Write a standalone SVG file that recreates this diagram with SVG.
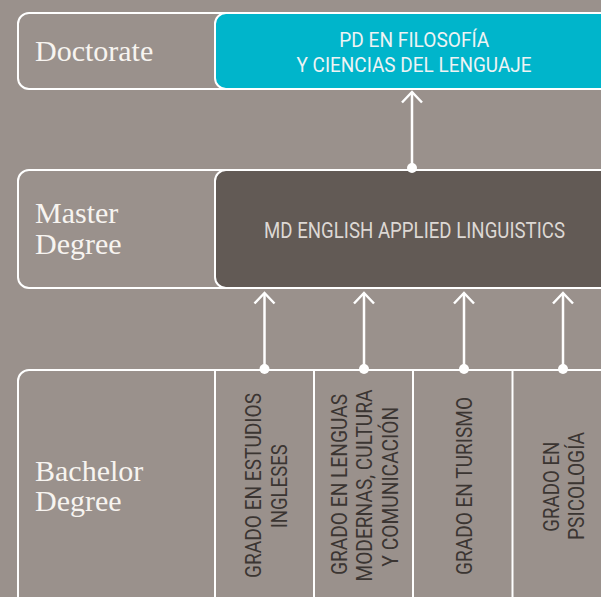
<svg xmlns="http://www.w3.org/2000/svg" width="601" height="597" viewBox="0 0 601 597">
  <defs>
    <style>
      .frame { fill: none; stroke: #ffffff; stroke-width: 2; }
      .level { font-family: "Liberation Serif", "Times New Roman", serif; font-size: 30px; fill: #f7f4f0; }
      .prog { font-family: Roboto, "Liberation Sans", sans-serif; text-anchor: middle; }
      .light { fill: #eef3f4; font-size: 20px; }
      .pale { fill: #ddd8d4; font-size: 21.5px; }
      .dark { fill: #3b3532; font-size: 22px; }
      .conn line, .conn polyline { stroke: #ffffff; stroke-width: 2.5; fill: none; }
      .conn circle { fill: #ffffff; }
      .divider { stroke: #ffffff; stroke-width: 2; }
    </style>
  </defs>
  <rect x="0" y="0" width="601" height="597" fill="#9a918c"/>

  <g id="doctorate-row">
    <rect class="frame" x="18" y="13" width="610" height="76" rx="11"/>
    <text class="level" x="35" y="61">Doctorate</text>
  </g>
  <g id="pd-filosofia">
    <rect x="215" y="13" width="398" height="76" rx="11" fill="#00b5cb" stroke="#ffffff" stroke-width="2"/>
    <text class="prog light" x="414.3" y="46.7" textLength="150" lengthAdjust="spacingAndGlyphs">PD EN FILOSOFÍA</text>
    <text class="prog light" x="414" y="72.3" textLength="235" lengthAdjust="spacingAndGlyphs">Y CIENCIAS DEL LENGUAJE</text>
  </g>

  <g id="master-row">
    <rect class="frame" x="18" y="170" width="610" height="118" rx="11"/>
    <text class="level" x="35" y="223.3">Master</text>
    <text class="level" x="35" y="254.3">Degree</text>
  </g>
  <g id="md-english">
    <rect x="215" y="170" width="398" height="118" rx="11" fill="#625a55" stroke="#ffffff" stroke-width="2"/>
    <text class="prog pale" transform="translate(414.5,238.3) scale(0.8635,1)" x="0" y="0" textLength="348.6" lengthAdjust="spacingAndGlyphs">MD ENGLISH APPLIED LINGUISTICS</text>
  </g>

  <g id="bachelor-row">
    <rect class="frame" x="18" y="370" width="610" height="300" rx="11"/>
    <text class="level" x="35" y="480.7">Bachelor</text>
    <text class="level" x="35" y="510.7">Degree</text>
    <line class="divider" x1="215" y1="370" x2="215" y2="597"/>
    <line class="divider" x1="314" y1="370" x2="314" y2="597"/>
    <line class="divider" x1="413" y1="370" x2="413" y2="597"/>
    <line class="divider" x1="512.5" y1="370" x2="512.5" y2="597"/>
  </g>

  <g id="grado-estudios-ingleses">
    <text class="prog dark" transform="translate(260.7,485.5) rotate(-90)" textLength="185" lengthAdjust="spacingAndGlyphs">GRADO EN ESTUDIOS</text>
    <text class="prog dark" transform="translate(287,486.3) rotate(-90)" textLength="84" lengthAdjust="spacingAndGlyphs">INGLESES</text>
  </g>
  <g id="grado-lenguas-modernas">
    <text class="prog dark" transform="translate(346.5,484.5) rotate(-90)" textLength="181" lengthAdjust="spacingAndGlyphs">GRADO EN LENGUAS</text>
    <text class="prog dark" transform="translate(372,485.5) rotate(-90)" textLength="192" lengthAdjust="spacingAndGlyphs">MODERNAS, CULTURA</text>
    <text class="prog dark" transform="translate(397.8,486.7) rotate(-90)" textLength="160" lengthAdjust="spacingAndGlyphs">Y COMUNICACIÓN</text>
  </g>
  <g id="grado-turismo">
    <text class="prog dark" transform="translate(471.7,486) rotate(-90)" textLength="178" lengthAdjust="spacingAndGlyphs">GRADO EN TURISMO</text>
  </g>
  <g id="grado-psicologia">
    <text class="prog dark" transform="translate(559,486.7) rotate(-90)" textLength="90" lengthAdjust="spacingAndGlyphs">GRADO EN</text>
    <text class="prog dark" transform="translate(583.5,486) rotate(-90)" textLength="108" lengthAdjust="spacingAndGlyphs">PSICOLOGÍA</text>
  </g>

  <g id="connectors" class="conn">
    <line x1="412" y1="168" x2="412" y2="92"/>
    <polyline points="402,102.5 412,92 422,102.5"/>
    <circle cx="412" cy="168" r="5"/>

    <line x1="264.5" y1="370" x2="264.5" y2="293"/>
    <polyline points="254.5,303.5 264.5,293 274.5,303.5"/>
    <circle cx="264.5" cy="369" r="5"/>

    <line x1="364" y1="370" x2="364" y2="293"/>
    <polyline points="354,303.5 364,293 374,303.5"/>
    <circle cx="364" cy="369" r="5"/>

    <line x1="464" y1="370" x2="464" y2="293"/>
    <polyline points="454,303.5 464,293 474,303.5"/>
    <circle cx="464" cy="369" r="5"/>

    <line x1="563" y1="370" x2="563" y2="293"/>
    <polyline points="553,303.5 563,293 573,303.5"/>
    <circle cx="563" cy="369" r="5"/>
  </g>
</svg>
